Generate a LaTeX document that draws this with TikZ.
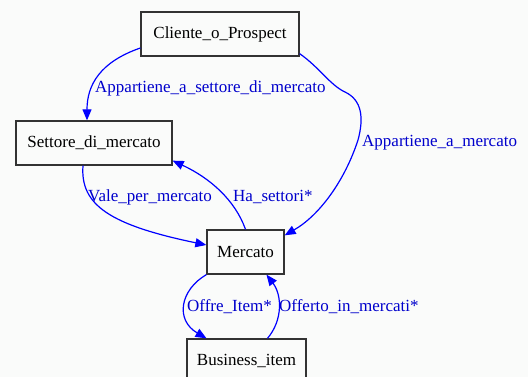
\documentclass[tikz,border=0pt]{standalone}
\usepackage{fontspec}
\setmainfont{Liberation Serif}
\usetikzlibrary{arrows.meta,positioning}

\begin{document}
\begin{tikzpicture}[x=1pt,y=-1pt,>={Triangle[length=11pt,width=9pt]},
  main node/.style={rectangle,draw=black!80,line width=1.3pt,minimum height=44pt,
    inner sep=0pt,font=\fontsize{17}{20}\selectfont},
  rel/.style={->,draw=blue,line width=1.2pt},
  rel label/.style={anchor=west,inner sep=0pt,text=blue!80!black,font=\fontsize{17}{20}\selectfont}]

  \fill[fill={rgb,255:red,250;green,251;blue,250}] (0,0) rectangle (528,377);
  \useasboundingbox (0,0) rectangle (528,377);

  \node[main node,minimum width=158pt] (cliente) at (220,34) {Cliente\_o\_Prospect};
  \node[main node,minimum width=156pt] (settore) at (94,143) {Settore\_di\_mercato};
  \node[main node,minimum width=77pt] (mercato) at (245.5,252) {Mercato};
  \node[main node,minimum width=119pt] (business) at (246.5,361) {Business\_item};

  \draw[rel] ([yshift=-14pt]cliente.west) .. controls (100,62) and (87,85) .. ([xshift=-7pt]settore.north);
  \draw[rel] ([yshift=3pt]cliente.south east) .. controls (320,68) and (330,85) .. (345,92)
    .. controls (362,100) and (364,118) .. (358,140)
    .. controls (345,180) and (320,215) .. ([yshift=-6pt]mercato.north east);
  \draw[rel] ([xshift=-11pt]settore.south) .. controls (80,205) and (110,225) .. ([yshift=7pt]mercato.west);
  \draw[rel] (mercato.north) .. controls (235,200) and (210,178) .. ([yshift=5pt]settore.south east);
  \draw[rel] (mercato.south west) .. controls (180,290) and (175,320) .. ([xshift=-40pt]business.north);
  \draw[rel] ([xshift=21pt]business.north) .. controls (283,320) and (282,295) .. ([xshift=21pt]mercato.south);

  \node[rel label] (l1) at (95,88) {Appartiene\_a\_settore\_di\_mercato};
  \node[rel label] (l2) at (362,143) {Appartiene\_a\_mercato};
  \node[rel label] (l3) at (88,197) {Vale\_per\_mercato};
  \node[rel label] (l4) at (233,197) {Ha\_settori*};
  \node[rel label] (l5) at (187,307) {Offre\_Item*};
  \node[rel label] (l6) at (279,307) {Offerto\_in\_mercati*};
\end{tikzpicture}
\end{document}
